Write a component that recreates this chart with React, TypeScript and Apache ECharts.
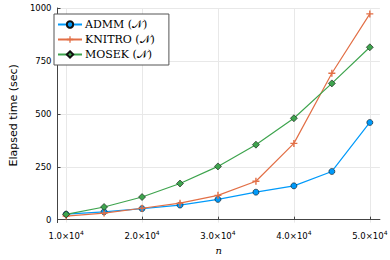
import React, { useEffect, useRef } from "react";
import * as echarts from "echarts";

const nValues = [10000, 15000, 20000, 25000, 30000, 35000, 40000, 45000, 50000];
const admm = [26, 37, 52, 69, 96, 130, 160, 228, 460];
const knitro = [17, 31, 54, 78, 115, 182, 361, 693, 974];
const mosek = [25, 60, 107, 171, 252, 355, 480, 645, 816];
const xTicks = [10000, 20000, 30000, 40000, 50000];
const yTicks = [0, 250, 500, 750, 1000];
const seriesNames = ["ADMM (𝒩)", "KNITRO (𝒩)", "MOSEK (𝒩)"];

const plusPath = "path://M4,0 L6,0 L6,4 L10,4 L10,6 L6,6 L6,10 L4,10 L4,6 L0,6 L0,4 L4,4 Z";

export default function App() {
  const ref = useRef<HTMLDivElement>(null);
  useEffect(() => {
    if (!ref.current) return;
    const chart = echarts.init(ref.current, undefined, { renderer: "svg" });
    const mk = (arr: number[]) => arr.map((v, i) => [nValues[i], v]);
    chart.setOption({
      animation: false,
      backgroundColor: "#fff",
      grid: { left: 43, right: 7, top: 8, bottom: 31 },
      legend: {
        left: 54,
        top: 14,
        orient: "vertical",
        backgroundColor: "#fff",
        borderColor: "#555",
        borderWidth: 1,
        borderRadius: 0,
        padding: [5, 14, 5, 3],
        itemGap: 4,
        itemWidth: 24,
        itemHeight: 8,
        textStyle: { fontFamily: "DejaVu Serif", fontSize: 11, color: "#000", padding: [0, 0, 0, -2] },
        data: seriesNames,
      },
      xAxis: {
        type: "value",
        min: 8870,
        max: 51330,
        name: "n",
        nameLocation: "middle",
        nameGap: 20,
        nameTextStyle: { fontFamily: "DejaVu Serif", fontStyle: "italic", fontSize: 10, color: "#000" },
        axisLine: { show: true, lineStyle: { color: "#444", width: 1 } },
        axisTick: { show: true, inside: true, length: 3, customValues: xTicks, lineStyle: { color: "#444" } },
        splitLine: { show: true, lineStyle: { color: "#e8e8e8", width: 1 } },
        axisLabel: {
          customValues: xTicks,
          margin: 7,
          formatter: (v: number) => `{a|${(v / 10000).toFixed(1)}×10}{b|4}`,
          rich: {
            a: { fontFamily: "DejaVu Sans", fontSize: 8.5, color: "#000" },
            b: { fontFamily: "DejaVu Sans", fontSize: 6, color: "#000", padding: [0, 0, 6, 0] },
          },
        },
      },
      yAxis: {
        type: "value",
        min: -14,
        max: 1002,
        name: "Elapsed time (sec)",
        nameLocation: "middle",
        nameGap: 30,
        nameTextStyle: { fontFamily: "DejaVu Sans", fontSize: 11, color: "#000" },
        axisLine: { show: true, lineStyle: { color: "#444", width: 1 } },
        axisTick: { show: true, inside: true, length: 3, customValues: yTicks, lineStyle: { color: "#444" } },
        splitLine: { show: true, lineStyle: { color: "#e8e8e8", width: 1 } },
        axisLabel: {
          customValues: yTicks,
          margin: 6,
          fontFamily: "DejaVu Sans",
          fontSize: 8.5,
          color: "#000",
          formatter: (v: number) => String(v),
        },
      },
      series: [
        {
          name: seriesNames[0],
          type: "line",
          data: mk(admm),
          symbol: "circle",
          symbolSize: 6,
          lineStyle: { color: "#009AFA", width: 1.2 },
          itemStyle: { color: "#009AFA", borderColor: "#111", borderWidth: 0.6 },
          z: 3,
        },
        {
          name: seriesNames[1],
          type: "line",
          data: mk(knitro),
          symbol: plusPath,
          symbolSize: 7,
          lineStyle: { color: "#E26F46", width: 1.2 },
          itemStyle: { color: "#E26F46", borderWidth: 0 },
          z: 4,
        },
        {
          name: seriesNames[2],
          type: "line",
          data: mk(mosek),
          symbol: "diamond",
          symbolSize: 7,
          lineStyle: { color: "#3EA44E", width: 1.2 },
          itemStyle: { color: "#3EA44E", borderColor: "#111", borderWidth: 0.6 },
          z: 5,
        },
      ],
    });
    return () => chart.dispose();
  }, []);
  return <div ref={ref} style={{ width: 390, height: 260, position: "absolute", left: 0, top: 0 }} />;
}
